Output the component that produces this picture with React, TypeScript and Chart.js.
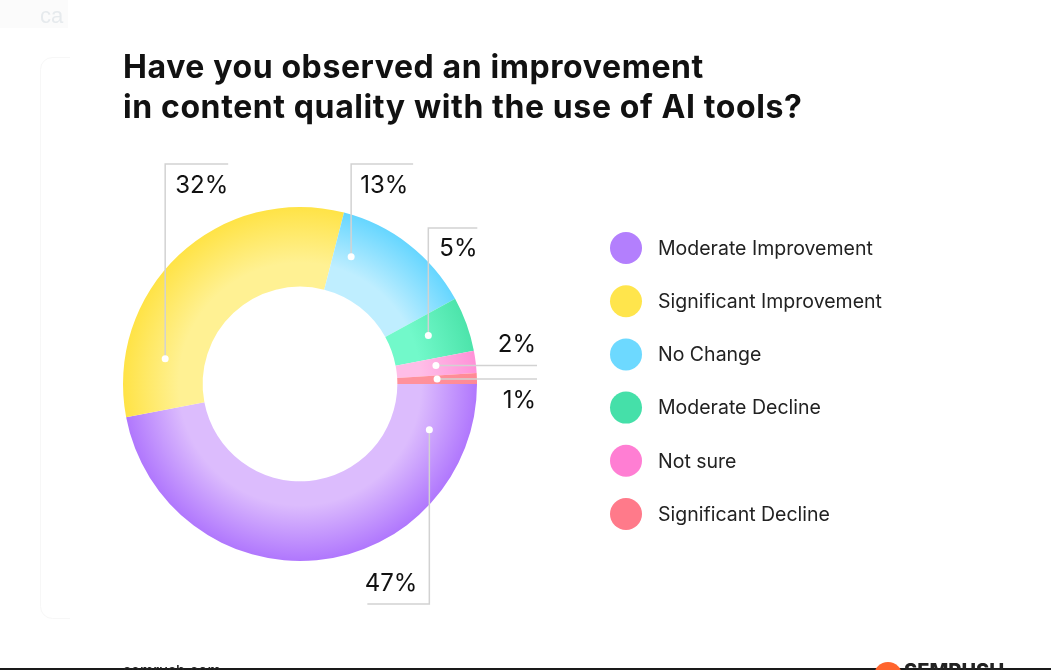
import React, { useEffect, useRef } from "react";
import { Chart, registerables } from "chart.js";

Chart.register(...registerables);

const titleLines = [
  "Have you observed an improvement",
  "in content quality with the use of AI tools?",
];
const categories = [
  "Moderate Improvement",
  "Significant Improvement",
  "No Change",
  "Moderate Decline",
  "Not sure",
  "Significant Decline",
];
const values = [47, 32, 13, 5, 2, 1];
const valueLabels = ["47%", "32%", "13%", "5%", "2%", "1%"];
const legendColors = ["#b37ffd", "#ffe54c", "#6dd9ff", "#45e0a9", "#ff7ed3", "#ff7a8a"];
const innerColors = ["#dcbcfd", "#fff193", "#bfeeff", "#72f9ca", "#ffbde7", "#ff919c"];
const outerColors = ["#b077fd", "#ffe346", "#66d6ff", "#4de4ab", "#ff92d8", "#ff8995"];

// leader-line layout (annotation styling, not data)
type Leader = { frac: number; kind: "up" | "down" | "right"; a: number; b: number; lx: number; ly: number; align: CanvasTextAlign };
const leaders: Leader[] = [
  { frac: 0.115, kind: "down", a: 604, b: -62, lx: -12, ly: 584, align: "right" },
  { frac: 0.186, kind: "up", a: 164, b: 63, lx: 10, ly: 186, align: "left" },
  { frac: 0.16, kind: "up", a: 164, b: 62, lx: 9, ly: 186, align: "left" },
  { frac: 0.45, kind: "up", a: 228, b: 49, lx: 11, ly: 249, align: "left" },
  { frac: 0.43, kind: "right", a: 537, b: 0, lx: 536, ly: -21, align: "right" },
  { frac: 0.42, kind: "right", a: 537, b: 0, lx: 536, ly: 22, align: "right" },
];

const FONT = "Inter, 'Open Sans', sans-serif";

const overlay = {
  id: "overlay",
  beforeDraw(chart: any) {
    const ctx = chart.ctx as CanvasRenderingContext2D;
    ctx.save();
    ctx.fillStyle = "#ffffff";
    ctx.fillRect(0, 0, chart.width, chart.height);
    // faint top-left tag
    ctx.fillStyle = "#fbfbfb";
    ctx.fillRect(0, 0, 68, 28);
    ctx.fillStyle = "#e6eaed";
    ctx.font = "22px Arial, 'Liberation Sans', sans-serif";
    ctx.textBaseline = "middle";
    ctx.fillText("ca", 40, 17);
    // faint card edge
    ctx.strokeStyle = "#f7f7f7";
    ctx.lineWidth = 1;
    ctx.beginPath();
    ctx.moveTo(70, 57.5);
    ctx.lineTo(52, 57.5);
    ctx.arcTo(40.5, 57.5, 40.5, 69, 12);
    ctx.lineTo(40.5, 606);
    ctx.arcTo(40.5, 618.5, 52, 618.5, 12);
    ctx.lineTo(70, 618.5);
    ctx.stroke();
    ctx.restore();
  },
  afterDraw(chart: any) {
    const ctx = chart.ctx as CanvasRenderingContext2D;
    ctx.save();
    // title
    ctx.fillStyle = "#111111";
    ctx.font = `700 32px ${FONT}`;
    (ctx as any).letterSpacing = "0.6px";
    ctx.textBaseline = "alphabetic";
    ctx.textAlign = "left";
    ctx.fillText(titleLines[0], 123, 78);
    ctx.fillText(titleLines[1], 123, 118);
    (ctx as any).letterSpacing = "0px";

    // leader lines + labels
    const meta = chart.getDatasetMeta(0);
    meta.data.forEach((arc: any, i: number) => {
      const L = leaders[i];
      const p = arc.getProps(["x", "y", "startAngle", "endAngle", "innerRadius", "outerRadius"], true);
      const ang = p.startAngle + (p.endAngle - p.startAngle) * L.frac;
      const r = (p.innerRadius + p.outerRadius) / 2;
      const dx = p.x + Math.cos(ang) * r;
      const dy = p.y + Math.sin(ang) * r;
      ctx.strokeStyle = "#d2d2d2";
      ctx.lineWidth = 1.5;
      ctx.beginPath();
      ctx.moveTo(dx, dy);
      if (L.kind === "up" || L.kind === "down") {
        ctx.lineTo(dx, L.a);
        ctx.lineTo(dx + L.b, L.a);
      } else {
        ctx.lineTo(L.a, dy);
      }
      ctx.stroke();
      ctx.fillStyle = "#ffffff";
      ctx.beginPath();
      ctx.arc(dx, dy, 3.5, 0, Math.PI * 2);
      ctx.fill();
      ctx.fillStyle = "#111111";
      ctx.font = `400 24px ${FONT}`;
      ctx.textBaseline = "middle";
      ctx.textAlign = L.align;
      if (L.kind === "right") {
        ctx.fillText(valueLabels[i], L.lx, dy + L.ly);
      } else {
        ctx.fillText(valueLabels[i], dx + L.lx, L.ly);
      }
    });

    // legend
    ctx.textAlign = "left";
    ctx.textBaseline = "middle";
    ctx.font = `400 19.5px ${FONT}`;
    categories.forEach((c, i) => {
      const y = 248 + i * 53.2;
      ctx.fillStyle = legendColors[i];
      ctx.beginPath();
      ctx.arc(626, y, 16, 0, Math.PI * 2);
      ctx.fill();
      ctx.fillStyle = "#222222";
      ctx.fillText(c, 658, y + 1);
    });

    // bottom strip (cut off)
    ctx.fillStyle = "#1a1a1a";
    ctx.fillRect(0, 668, chart.width, 2);
    ctx.fillStyle = "#222";
    ctx.font = `500 15px ${FONT}`;
    ctx.textBaseline = "alphabetic";
    ctx.fillText("semrush.com", 123, 676);
    ctx.fillStyle = "#ff642d";
    ctx.beginPath();
    ctx.arc(888, 676, 14, Math.PI, Math.PI * 2);
    ctx.fill();
    ctx.fillStyle = "#222";
    ctx.font = `800 20px ${FONT}`;
    ctx.fillText("SEMRUSH", 904, 678);
    ctx.restore();
  },
};

export default function App() {
  const ref = useRef<HTMLCanvasElement | null>(null);
  useEffect(() => {
    if (!ref.current) return;
    const chart = new Chart(ref.current, {
      type: "doughnut",
      data: {
        labels: categories,
        datasets: [
          {
            data: values,
            borderWidth: 0,
            backgroundColor: (c: any) => {
              const ch = c.chart;
              const area = ch.chartArea;
              const i = c.dataIndex;
              if (!area) return legendColors[i];
              const cx = (area.left + area.right) / 2;
              const cy = (area.top + area.bottom) / 2;
              const R = Math.min(area.right - area.left, area.bottom - area.top) / 2;
              const r0 = R * 0.55;
              const g = ch.ctx.createRadialGradient(cx, cy, r0, cx, cy, R);
              g.addColorStop(0, innerColors[i]);
              g.addColorStop(0.3, innerColors[i]);
              g.addColorStop(1, outerColors[i]);
              return g;
            },
          },
        ],
      },
      options: {
        responsive: false,
        animation: false,
        rotation: 90,
        cutout: "55%",
        layout: { padding: { left: 123, right: 574, top: 207, bottom: 109 } },
        plugins: { legend: { display: false }, tooltip: { enabled: false }, title: { display: false } },
      },
      plugins: [overlay],
    });
    return () => chart.destroy();
  }, []);
  return (
    <div style={{ position: "absolute", left: 0, top: 0, width: 1051, height: 670 }}>
      <canvas ref={ref} width={1051} height={670} style={{ width: 1051, height: 670, display: "block" }} />
    </div>
  );
}
